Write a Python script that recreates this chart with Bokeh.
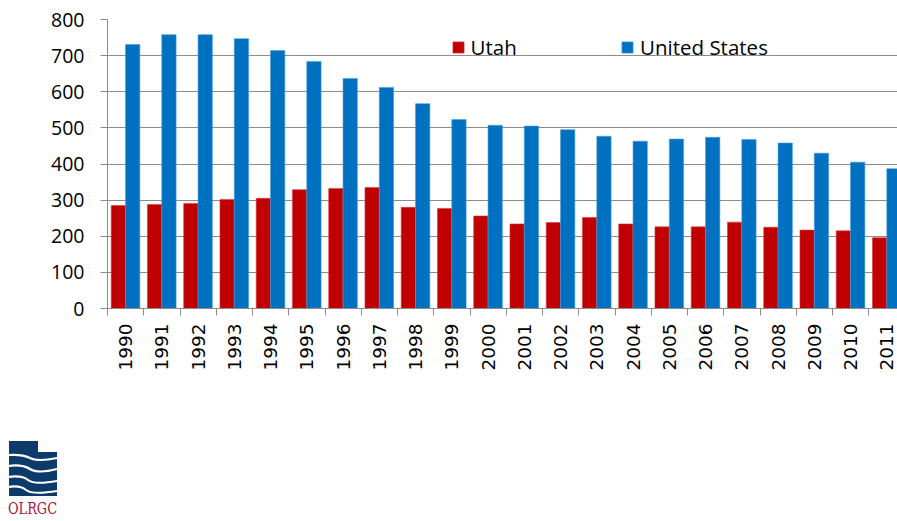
import math
from bokeh.plotting import figure
from bokeh.models import (ColumnDataSource, FixedTicker, SingleIntervalTicker, Legend,
                          LegendItem, Div, Range1d)
from bokeh.transform import dodge
from bokeh.layouts import column
from bokeh.embed import file_html
from bokeh.resources import INLINE

# ---- data ----
years = ["1990", "1991", "1992", "1993", "1994", "1995", "1996", "1997", "1998", "1999", "2000",
         "2001", "2002", "2003", "2004", "2005", "2006", "2007", "2008", "2009", "2010", "2011"]
utah = [285, 288, 291, 302, 305, 329, 332, 335, 280, 277, 256,
        234, 238, 252, 234, 226, 226, 239, 225, 217, 215, 196]
us = [731, 758, 758, 747, 714, 684, 637, 612, 567, 523, 507,
      505, 495, 477, 463, 469, 474, 468, 458, 430, 405, 387]
y_ticks_interval = 100

idx = list(range(len(years)))
src = ColumnDataSource(dict(idx=idx, year=years, utah=utah, us=us))

RED = "#C00000"
BLUE = "#0070C0"
GRID = "#8C8C8C"

p = figure(width=897, height=390,
           x_range=Range1d(-0.5, 21.293), y_range=Range1d(0, 800),
           output_backend="svg", toolbar_location=None,
           min_border_left=107, min_border_right=0, min_border_top=19, min_border_bottom=82)
p.outline_line_color = None
p.xgrid.visible = False
p.ygrid.grid_line_color = GRID
p.ygrid.grid_line_width = 1
p.ygrid.ticker = SingleIntervalTicker(interval=y_ticks_interval)

r1 = p.vbar(x=dodge("idx", -0.2, range=p.x_range), top="utah", width=0.395, source=src,
            fill_color=RED, line_color="#D83A3A", line_width=0.6)
r2 = p.vbar(x=dodge("idx", 0.195, range=p.x_range), top="us", width=0.395, source=src,
            fill_color=BLUE, line_color="#4A9BDB", line_width=0.6)

# x axis: labels at category centres, tick marks at category boundaries
p.xaxis.ticker = FixedTicker(ticks=idx, minor_ticks=[i - 0.5 for i in idx] + [len(idx) - 0.5])
p.xaxis.major_label_overrides = {i: y for i, y in zip(idx, years)}
p.xaxis.major_label_orientation = math.pi / 2
p.xaxis.major_tick_line_color = None
p.xaxis.major_tick_out = 0
p.xaxis.major_tick_in = 0
p.xaxis.minor_tick_line_color = GRID
p.xaxis.minor_tick_out = 7
p.xaxis.minor_tick_in = 0
p.xaxis.major_label_standoff = 8
p.xaxis.axis_line_color = GRID
p.xaxis.major_label_text_font = "DejaVu Sans"
p.xaxis.major_label_text_font_size = "18.5px"
p.xaxis.major_label_text_color = "#000000"

p.yaxis.ticker = SingleIntervalTicker(interval=y_ticks_interval)
p.yaxis.axis_line_color = GRID
p.yaxis.major_tick_line_color = GRID
p.yaxis.major_tick_out = 7
p.yaxis.major_tick_in = 0
p.yaxis.minor_tick_line_color = None
p.yaxis.major_label_standoff = 16
p.yaxis.major_label_text_font = "Open Sans"
p.yaxis.major_label_text_font_size = "19.5px"
p.yaxis.major_label_text_color = "#000000"

def make_legend(label, rend, loc):
    lg = Legend(items=[LegendItem(label=label, renderers=[rend])], location=loc,
                orientation="horizontal", padding=0, margin=0, spacing=0,
                glyph_width=14, glyph_height=14, label_standoff=6,
                label_text_font="Open Sans", label_text_font_size="20.5px",
                label_text_color="#000000", border_line_color=None,
                background_fill_alpha=0)
    p.add_layout(lg, "center")

make_legend("Utah", r1, (343.5, 247.5))
make_legend("United States", r2, (513, 247.5))

logo_svg = """
<svg width="70" height="131" xmlns="http://www.w3.org/2000/svg" style="display:block;overflow:visible">
  <path d="M9,51 H38 V62 H57 V106 H9 Z" fill="#0B3A6B"/>
  <path d="M8,65 Q22,64 30,68 T57,68" stroke="#ffffff" stroke-width="2.2" fill="none"/>
  <path d="M8,76 Q22,74 30,79 T57,79" stroke="#ffffff" stroke-width="2.2" fill="none"/>
  <path d="M8,87 Q22,85 28,90 T57,91" stroke="#ffffff" stroke-width="2.2" fill="none"/>
  <path d="M8,97 Q20,95 26,100 T57,101" stroke="#ffffff" stroke-width="2.2" fill="none"/>
  <text x="8" y="124" style="font-family:'DejaVu Serif','Liberation Serif',serif;font-size:16px"
        textLength="49" lengthAdjust="spacingAndGlyphs" fill="#A3193B">OLRGC</text>
</svg>
"""
logo = Div(text=logo_svg, width=897, height=131, margin=0)

layout = column(p, logo, spacing=0)
open("out.html", "w").write(file_html(layout, INLINE))
